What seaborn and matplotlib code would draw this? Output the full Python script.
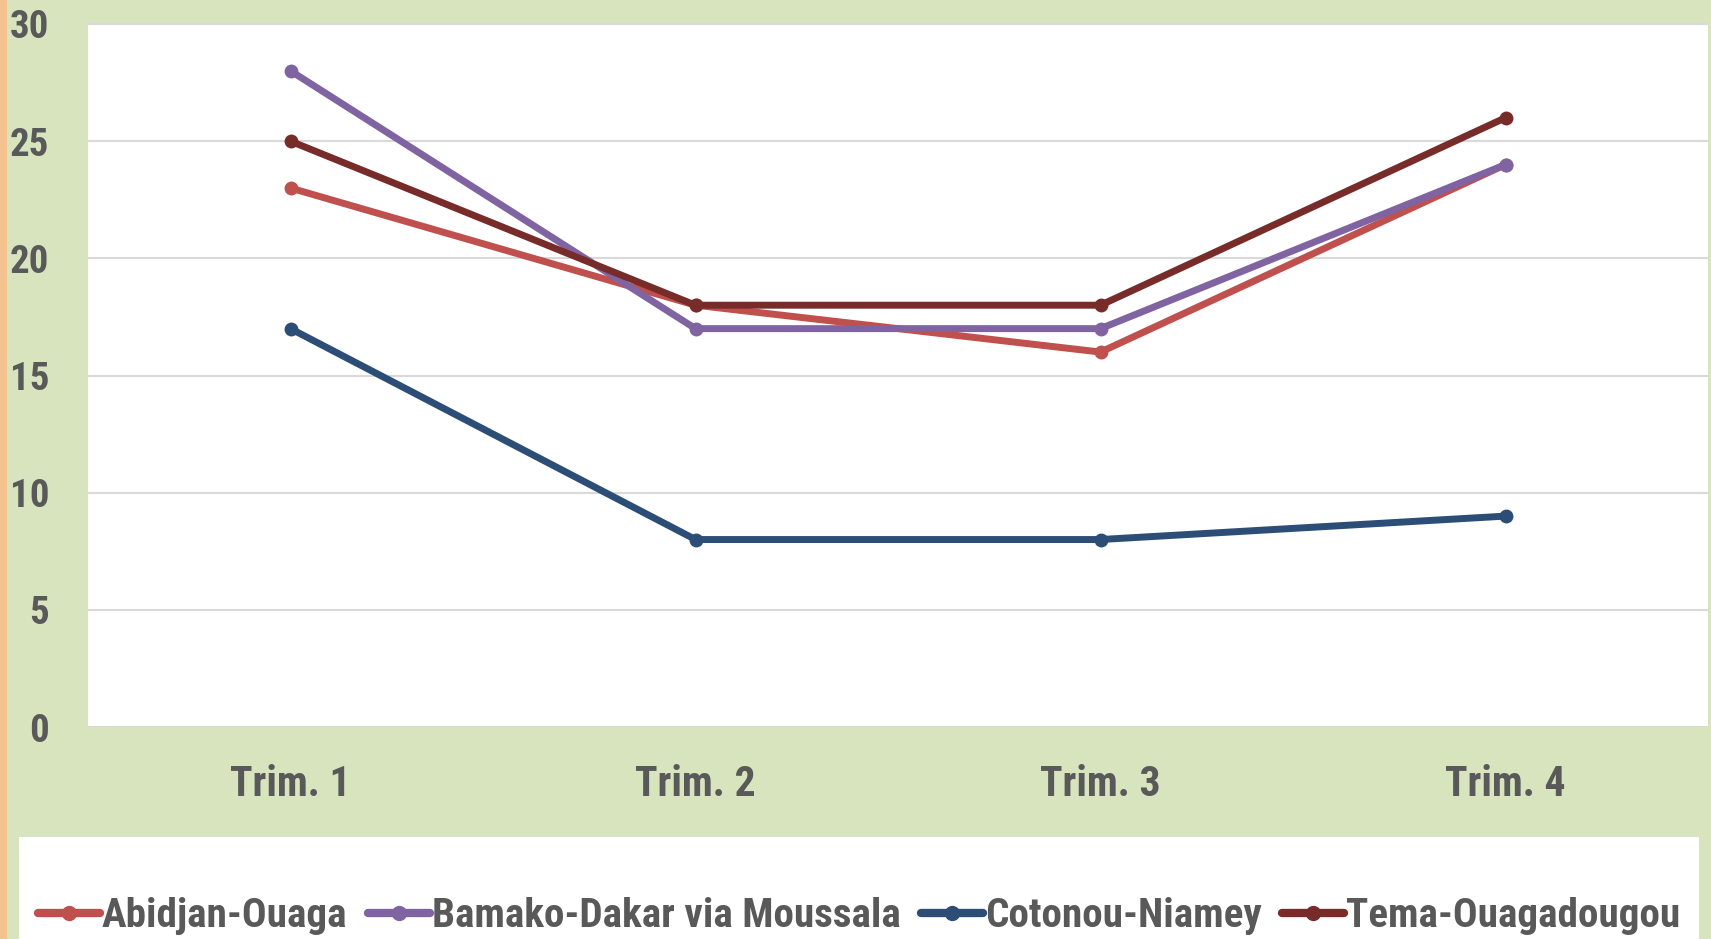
import os
import matplotlib
matplotlib.use("Agg")
import matplotlib.pyplot as plt
import matplotlib.patches as mpatches
from matplotlib import font_manager
import seaborn as sns
import pandas as pd

# Données
trimestres = ["Trim. 1", "Trim. 2", "Trim. 3", "Trim. 4"]
corridors = ["Abidjan-Ouaga", "Bamako-Dakar via Moussala", "Cotonou-Niamey", "Tema-Ouagadougou"]
abidjan = [23, 18, 16, 24]
bamako = [28, 17, 17, 24]
cotonou = [17, 8, 8, 9]
tema = [25, 18, 18, 26]
y_ticks = [0, 5, 10, 15, 20, 25, 30]

couleurs = ["#C0504D", "#8064A2", "#2C4D75", "#772C2A"]

rows = []
for nom, vals in zip(corridors, [abidjan, bamako, cotonou, tema]):
    for t, v in zip(trimestres, vals):
        rows.append({"trimestre": t, "corridor": nom, "valeur": v})
df = pd.DataFrame(rows)

sns.set_theme(style="white")
plt.rcParams["font.family"] = ["Liberation Sans", "DejaVu Sans"]


# Chercher une police étroite en gras (style Arial Narrow)
def police_etroite():
    prefs = ["liberationsansnarrow-bold.ttf", "arialnbd.ttf", "robotocondensed-bold.ttf",
             "dejavusanscondensed-bold.ttf", "opensans_condensed-bold.ttf"]
    fichiers = {os.path.basename(f.fname).lower(): f.fname for f in font_manager.fontManager.ttflist}
    for p in prefs:
        if p in fichiers:
            return fichiers[p]
    for nom, chemin in fichiers.items():
        if ("narrow" in nom or "condensed" in nom) and "bold" in nom and "italic" not in nom \
                and "oblique" not in nom and "semi" not in nom and "extra" not in nom:
            return chemin
    return None


fichier = police_etroite()


def fp(taille):
    if fichier:
        return font_manager.FontProperties(fname=fichier, size=taille)
    return font_manager.FontProperties(family="Liberation Sans", weight="bold", size=taille)


VERT = "#D7E4BD"
GRIS = "#595959"

fig = plt.figure(figsize=(17.11, 9.39), dpi=100, facecolor=VERT)
# bande orange à gauche
fig.patches.append(mpatches.Rectangle((0, 0), 7 / 1711, 1, transform=fig.transFigure,
                                      facecolor="#F4C28F", edgecolor="none", zorder=0))
# cadre blanc de la légende
fig.patches.append(mpatches.Rectangle((19 / 1711, 0), (1699 - 19) / 1711, (939 - 837) / 939,
                                      transform=fig.transFigure, facecolor="white",
                                      edgecolor="none", zorder=0))

ax = fig.add_axes([88 / 1711, 1 - 727 / 939, (1708 - 88) / 1711, (727 - 24) / 939])
ax.set_facecolor("white")

sns.lineplot(data=df, x="trimestre", y="valeur", hue="corridor", palette=couleurs,
             marker="o", markersize=10, markeredgewidth=0, linewidth=5, ax=ax,
             legend=False, zorder=3)

ax.set_xlim(-0.5, 3.5)
ax.set_ylim(0, 30)
ax.set_yticks(y_ticks)
ax.set_xticks(range(len(trimestres)))
ax.set_xticklabels(trimestres)
ax.yaxis.grid(True, color="#D9D9D9", linewidth=1.5)
ax.set_axisbelow(True)
for s in ["left", "right", "bottom"]:
    ax.spines[s].set_visible(False)
ax.spines["top"].set_color("#D9D9D9")
ax.spines["top"].set_linewidth(1.5)
ax.tick_params(axis="both", length=0, labelcolor=GRIS)
ax.tick_params(axis="y", pad=28)   # points : ~39 px
ax.tick_params(axis="x", pad=27)
taille_x = 30 if fichier else 26
taille_y = 28 if fichier else 24
for lab in ax.get_xticklabels():
    lab.set_fontproperties(fp(taille_x))
for lab in ax.get_yticklabels():
    lab.set_fontproperties(fp(taille_y))
ax.set_xlabel("")
ax.set_ylabel("")

handles = [plt.Line2D([], [], color=c, linewidth=6, marker="o", markersize=10,
                      solid_capstyle="round") for c in couleurs]


def faire_legende(taille):
    leg = fig.legend(handles, corridors, loc="center left",
                     bbox_to_anchor=(38 / 1711, 1 - 916 / 939),
                     ncol=4, frameon=False, handlelength=1.5, handletextpad=0.05,
                     columnspacing=0.5, borderaxespad=0, borderpad=0, prop=fp(taille))
    for t in leg.get_texts():
        t.set_color(GRIS)
    return leg


# ajuster la taille pour que la légende occupe la même largeur que l'original
taille = 31
leg = faire_legende(taille)
fig.canvas.draw()
largeur = leg.get_window_extent().width
cible = 1680 - 38
if largeur > cible:
    leg.remove()
    taille = taille * cible / largeur
    leg = faire_legende(taille)

fig.savefig("out.png", dpi=100, facecolor=VERT)
